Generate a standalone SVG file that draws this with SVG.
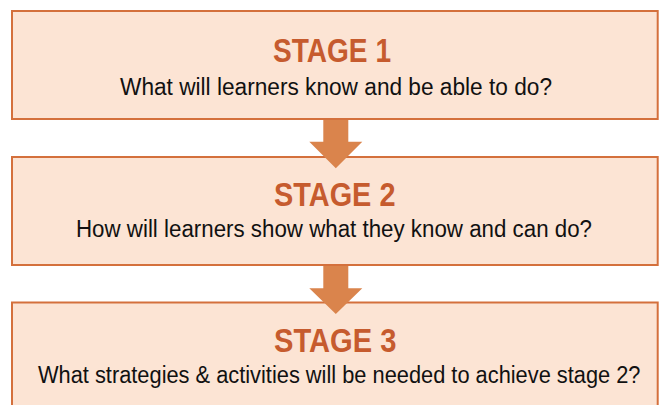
<svg xmlns="http://www.w3.org/2000/svg" width="659" height="405" viewBox="0 0 659 405">
  <style>
    .box { fill: #FCE4D4; stroke: #D4703C; stroke-width: 2; }
    .arrow { fill: #DA844C; }
    .title { font-family: "Liberation Sans", Arial, sans-serif; font-weight: bold; font-size: 34px; fill: #C65B2E; }
    .sub { font-family: "Liberation Sans", Arial, sans-serif; font-size: 23px; fill: #111111; }
  </style>
  <rect width="659" height="405" fill="#FFFFFF"/>
  <g id="stage1">
    <rect class="box" x="12" y="11" width="645.7" height="108"/>
    <text class="title" x="273" y="61.7" textLength="118" lengthAdjust="spacingAndGlyphs">STAGE 1</text>
    <text class="sub" x="120" y="95" textLength="432" lengthAdjust="spacingAndGlyphs">What will learners know and be able to do?</text>
  </g>
  <g id="stage2">
    <rect class="box" x="12" y="157" width="645.7" height="108"/>
    <text class="title" x="274" y="206" textLength="121.5" lengthAdjust="spacingAndGlyphs">STAGE 2</text>
    <text class="sub" x="76" y="236.7" textLength="516" lengthAdjust="spacingAndGlyphs">How will learners show what they know and can do?</text>
  </g>
  <g id="stage3">
    <rect class="box" x="12" y="302.5" width="645.7" height="108"/>
    <text class="title" x="274" y="351.7" textLength="122.5" lengthAdjust="spacingAndGlyphs">STAGE 3</text>
    <text class="sub" x="38" y="383.3" textLength="602.5" lengthAdjust="spacingAndGlyphs">What strategies &amp; activities will be needed to achieve stage 2?</text>
  </g>
  <g id="connectors">
    <polygon class="arrow" points="323.3,120 348.3,120 348.3,141.7 362.3,141.7 335.8,168.3 309.3,141.7 323.3,141.7"/>
    <polygon class="arrow" points="323.3,266 348.3,266 348.3,288.3 362.3,288.3 335.8,314 309.3,288.3 323.3,288.3"/>
  </g>
</svg>
